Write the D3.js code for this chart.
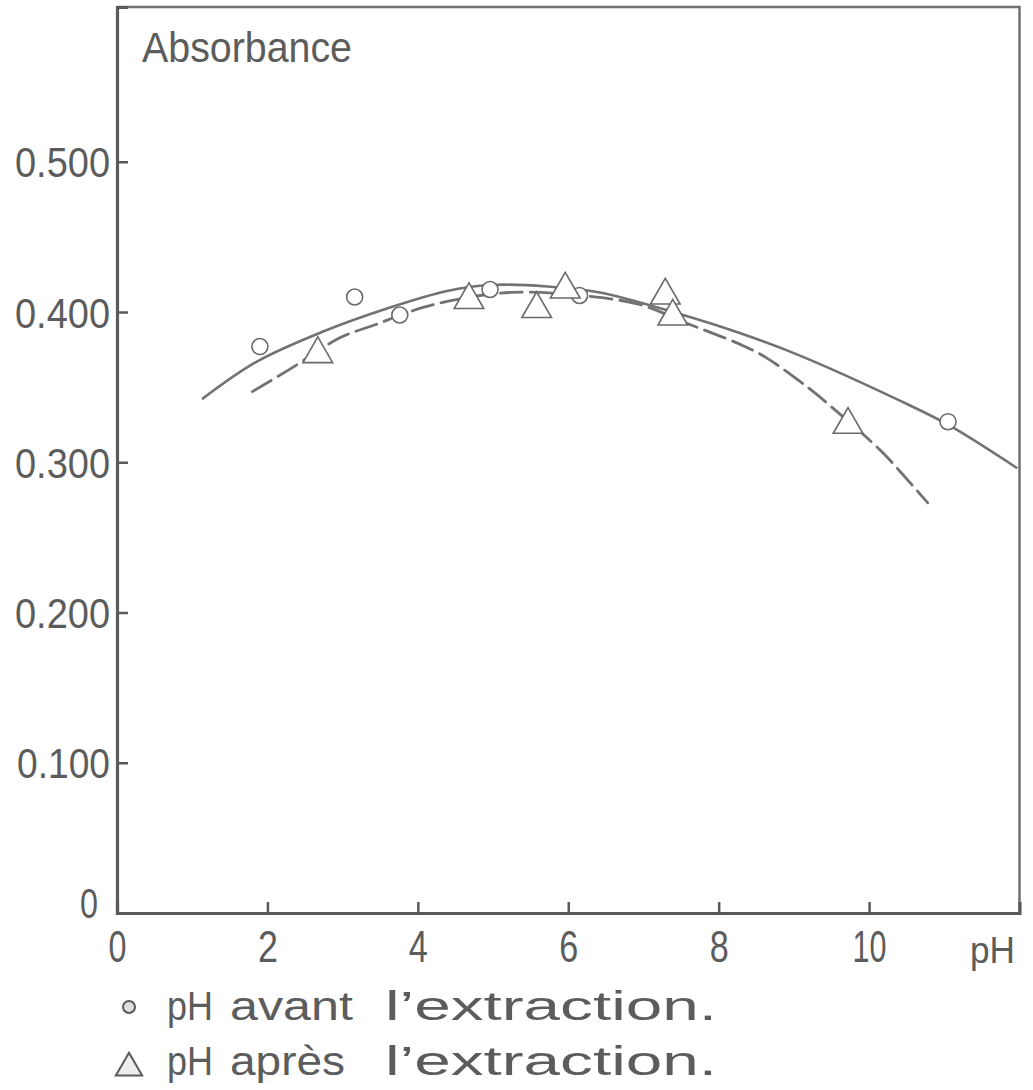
<!DOCTYPE html>
<html><head><meta charset="utf-8">
<script src="https://cdn.jsdelivr.net/npm/d3@7"></script>
<style>
html,body{margin:0;padding:0;background:#fff;}
svg{display:block;}
text{font-family:"Liberation Sans",Arial,sans-serif;fill:#5c5c5c;}
</style></head>
<body>
<svg id="chart" width="1033" height="1090"></svg>
<script>
// ---- data ----
const xTickValues = [0, 2, 4, 6, 8, 10];
const xTickLabels = ["0", "2", "4", "6", "8", "10"];
const yTickValues = [0, 0.1, 0.2, 0.3, 0.4, 0.5];
const yTickLabels = ["0", "0.100", "0.200", "0.300", "0.400", "0.500"];

// pH avant l'extraction (circles)
const avantPH = [1.9, 3.16, 3.76, 4.96, 6.15, 11.05];
const avantAbs = [0.377, 0.410, 0.398, 0.415, 0.411, 0.327];
// pH après l'extraction (triangles)
const apresPH = [2.67, 4.68, 5.58, 5.96, 7.29, 7.39, 9.72];
const apresAbs = [0.372, 0.408, 0.402, 0.415, 0.411, 0.397, 0.325];

// hand-drawn fitted curves (traced)
const solidPH  = [1.13, 1.86, 2.74, 3.63, 4.39, 4.96, 5.72, 6.42, 7.46, 8.28, 9.08, 10.41, 11.05, 11.97];
const solidAbs = [0.342, 0.367, 0.387, 0.403, 0.414, 0.418, 0.417, 0.413, 0.399, 0.386, 0.371, 0.341, 0.325, 0.296];
const dashPH  = [1.8, 2.3, 2.97, 3.46, 3.94, 4.39, 5.23, 6.16, 6.95, 7.55, 8.26, 8.62, 9.18, 9.45, 10.15, 10.41, 10.78];
const dashAbs = [0.347, 0.362, 0.383, 0.392, 0.401, 0.407, 0.413, 0.411, 0.405, 0.393, 0.379, 0.370, 0.350, 0.339, 0.308, 0.294, 0.273];

const yTitle = "Absorbance";
const xTitle = "pH";
const legendLabels = [["pH", "avant", "l\u2019extraction."], ["pH", "apr\u00e8s", "l\u2019extraction."]];

// ---- drawing ----
(function () {
const svg = d3.select("#chart");
const mLeft = 117, mRight = 1019.5, mTop = 7, mBottom = 913;
const x = d3.scaleLinear().domain([0, 12]).range([mLeft, mRight]);
const y = d3.scaleLinear().domain([0, 0.603]).range([mBottom, mTop]);
const ink = "#5a5a5a";
const txt = "#5c5c5c";

// frame (top and right)
svg.append("path")
  .attr("d", `M${mLeft},${mTop}H${mRight}V${mBottom}`)
  .attr("fill", "none").attr("stroke", "#707070").attr("stroke-width", 2.5);

// y axis
const yLabelWidths = {"0": 18, "0.100": 93, "0.200": 95, "0.300": 95, "0.400": 95, "0.500": 95};
const yAx = svg.append("g").attr("transform", `translate(${mLeft},0)`)
  .call(d3.axisLeft(y).tickValues(yTickValues).tickSize(-11).tickPadding(7)
        .tickFormat((d, i) => yTickLabels[i]));
yAx.select(".domain").attr("stroke", ink).attr("stroke-width", 3.2);
yAx.selectAll(".tick line").attr("stroke", ink).attr("stroke-width", 2.5);
yAx.selectAll(".tick text")
  .attr("font-size", 42).attr("font-family", null).attr("fill", txt)
  .attr("dy", "0.36em")
  .attr("textLength", (d, i) => yLabelWidths[yTickLabels[i]])
  .attr("lengthAdjust", "spacingAndGlyphs");
yAx.selectAll(".tick").filter(d => d === 0).select("text").attr("dy", "0.1em").attr("x", -19);
yAx.selectAll(".tick").filter(d => d === 0).select("line").remove();

// x axis
const xLabelWidths = {"0": 18, "2": 20, "4": 19, "6": 19, "8": 19, "10": 34};
const xAx = svg.append("g").attr("transform", `translate(0,${mBottom})`)
  .call(d3.axisBottom(x).tickValues(xTickValues).tickSize(-11)
        .tickFormat((d, i) => xTickLabels[i]));
xAx.select(".domain").attr("stroke", ink).attr("stroke-width", 3.2);
xAx.selectAll(".tick line").attr("stroke", ink).attr("stroke-width", 2.5);
xAx.selectAll(".tick").filter(d => d === 0).select("line").remove();
xAx.selectAll(".tick text")
  .attr("font-size", 45).attr("font-family", null).attr("fill", txt)
  .attr("y", 49).attr("dy", null)
  .attr("textLength", (d, i) => xLabelWidths[xTickLabels[i]])
  .attr("lengthAdjust", "spacingAndGlyphs");

// axis titles
svg.append("text").attr("x", 970).attr("y", 963).attr("font-size", 36)
  .attr("textLength", 45).attr("lengthAdjust", "spacingAndGlyphs").text(xTitle);
svg.append("text").attr("x", 142).attr("y", 62).attr("font-size", 42)
  .attr("textLength", 210).attr("lengthAdjust", "spacingAndGlyphs").text(yTitle);

// curves
const line = d3.line().curve(d3.curveCatmullRom.alpha(0.5)).x(d => x(d[0])).y(d => y(d[1]));
svg.append("path").datum(d3.zip(solidPH, solidAbs)).attr("d", line)
  .attr("fill", "none").attr("stroke", "#727272").attr("stroke-width", 2.6);
svg.append("path").datum(d3.zip(dashPH, dashAbs)).attr("d", line)
  .attr("fill", "none").attr("stroke", "#727272").attr("stroke-width", 2.8)
  .attr("stroke-dasharray", "22,8").attr("stroke-linecap", "round");

// markers
svg.append("g").selectAll("circle").data(d3.zip(avantPH, avantAbs)).join("circle")
  .attr("cx", d => x(d[0])).attr("cy", d => y(d[1])).attr("r", 8)
  .attr("fill", "#fff").attr("stroke", "#6a6a6a").attr("stroke-width", 1.6);
const tri = d3.symbol().type(d3.symbolTriangle).size(380);
svg.append("g").selectAll("path").data(d3.zip(apresPH, apresAbs)).join("path")
  .attr("d", tri).attr("transform", d => `translate(${x(d[0])},${y(d[1])})`)
  .attr("fill", "#fff").attr("stroke", "#6a6a6a").attr("stroke-width", 1.6);

// legend
const lg = svg.append("g");
lg.append("circle").attr("cx", 129).attr("cy", 1007).attr("r", 6)
  .attr("fill", "#ddd").attr("stroke", "#5a5a5a").attr("stroke-width", 2);
lg.append("path").attr("d", d3.symbol().type(d3.symbolTriangle).size(300))
  .attr("transform", "translate(129,1068)")
  .attr("fill", "#eee").attr("stroke", "#5a5a5a").attr("stroke-width", 2);
const wordX = [167, 230, 385];
const wordW = [[46, 123, 332], [46, 115, 332]];
const baseY = [1020, 1075];
legendLabels.forEach((words, r) => {
  words.forEach((w, i) => {
    lg.append("text").attr("x", wordX[i]).attr("y", baseY[r]).attr("font-size", 40)
      .attr("textLength", wordW[r][i]).attr("lengthAdjust", "spacingAndGlyphs").text(w);
  });
});
})();
</script>
</body></html>
